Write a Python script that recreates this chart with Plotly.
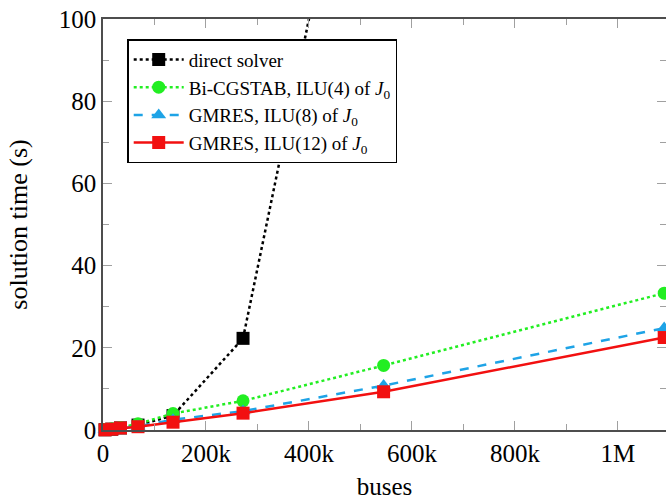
import plotly.graph_objects as go

buses = [4e3, 17e3, 34e3, 68e3, 136e3, 272e3, 545e3, 1.09e6]
direct_solver = [0.05, 0.2, 0.5, 1.2, 3.5, 22.3, 188.0, None]
bicgstab_ilu4 = [0.1, 0.3, 0.6, 1.5, 4.0, 7.1, 15.7, 33.3]
gmres_ilu8 = [0.05, 0.25, 0.5, 0.9, 2.5, 4.6, 10.8, 24.8]
gmres_ilu12 = [0.05, 0.2, 0.5, 0.8, 1.9, 4.1, 9.3, 22.5]

x_tickvals = [0, 200e3, 400e3, 600e3, 800e3, 1e6]
x_ticktext = ["0", "200k", "400k", "600k", "800k", "1M"]
y_tickvals = [0, 20, 40, 60, 80, 100]
x_range = [0, 1.0935e6]
y_range = [0, 100]

FONT = "Liberation Serif"
TICKGREY = "#a0a0a0"
LINEGREY = "#4d4d4d"

fig = go.Figure()

fig.add_trace(go.Scatter(
    x=buses, y=direct_solver, name="direct solver", mode="lines+markers",
    line=dict(color="black", width=2.5, dash="dot"),
    marker=dict(symbol="square", size=13, color="black"),
    legendgroup="a", cliponaxis=False))
fig.add_trace(go.Scatter(
    x=buses, y=bicgstab_ilu4, name="Bi-CGSTAB, ILU(4) of <i>J</i><sub>0</sub>",
    mode="lines+markers",
    line=dict(color="#22ee22", width=2.5, dash="dot"),
    marker=dict(symbol="circle", size=13, color="#22ee22"),
    legendgroup="b", cliponaxis=False))
fig.add_trace(go.Scatter(
    x=buses, y=gmres_ilu8, name="GMRES, ILU(8) of <i>J</i><sub>0</sub>",
    mode="lines+markers",
    line=dict(color="#1ea3e6", width=2.5, dash="dash"),
    marker=dict(symbol="triangle-up", size=13, color="#1ea3e6"),
    legendgroup="c", cliponaxis=False))
fig.add_trace(go.Scatter(
    x=buses, y=gmres_ilu12, name="GMRES, ILU(12) of <i>J</i><sub>0</sub>",
    mode="lines+markers",
    line=dict(color="#f21010", width=2.5),
    marker=dict(symbol="square", size=13, color="#f21010"),
    legendgroup="d", cliponaxis=False))
# transparent copy on the top/right axes so that the mirrored tick axes are rendered
fig.add_trace(go.Scatter(x=buses, y=gmres_ilu12, xaxis="x2", yaxis="y2", mode="markers",
                         marker=dict(opacity=0), showlegend=False, hoverinfo="skip"))

axis_common = dict(
    showgrid=False, zeroline=False, showline=True, linecolor=LINEGREY, linewidth=1.5,
    ticks="inside", ticklen=9, tickwidth=1, tickcolor=TICKGREY, automargin=False,
    ticklabeloverflow="allow",
    tickfont=dict(family=FONT, size=25, color="black"),
)

fig.update_layout(
    width=666, height=500,
    margin=dict(l=103, r=0, t=19, b=70),
    plot_bgcolor="white", paper_bgcolor="white",
    font=dict(family=FONT, color="black"),
    xaxis=dict(
        **axis_common, range=x_range,
        tickvals=x_tickvals, ticktext=x_ticktext,
        minor=dict(ticks="inside", ticklen=6, tickcolor=TICKGREY, dtick=100e3, showgrid=False),
        title=dict(text="buses", font=dict(family=FONT, size=25), standoff=23),
    ),
    yaxis=dict(
        **axis_common, range=y_range, tickvals=y_tickvals,
        minor=dict(ticks="inside", ticklen=6, tickcolor=TICKGREY, dtick=10, showgrid=False),
        title=dict(text="solution time (s)", font=dict(family=FONT, size=26), standoff=24),
    ),
    xaxis2=dict(
        overlaying="x", side="top", anchor="y2", range=x_range, showgrid=False,
        zeroline=False, showline=True, linecolor=LINEGREY, linewidth=1.5,
        ticks="inside", ticklen=9, tickcolor=TICKGREY,
        tickvals=x_tickvals, showticklabels=False, automargin=False,
        minor=dict(ticks="inside", ticklen=6, tickcolor=TICKGREY, dtick=100e3, showgrid=False),
    ),
    yaxis2=dict(
        overlaying="y", side="right", anchor="x2", range=y_range, showgrid=False,
        zeroline=False, showline=False, ticks="inside", ticklen=9, tickcolor=TICKGREY,
        tickvals=y_tickvals, showticklabels=False, automargin=False,
        minor=dict(ticks="inside", ticklen=6, tickcolor=TICKGREY, dtick=10, showgrid=False),
    ),
    legend=dict(
        x=0.043, y=0.951, xanchor="left", yanchor="top",
        bgcolor="white", bordercolor="black", borderwidth=1.5,
        font=dict(family=FONT, size=19, color="black"),
        itemwidth=50, tracegroupgap=0, traceorder="grouped",
    ),
    showlegend=True,
)

fig.write_html("out.html", config={"displayModeBar": False},
               post_script="document.body.style.margin='0px';document.body.style.overflow='hidden';")
